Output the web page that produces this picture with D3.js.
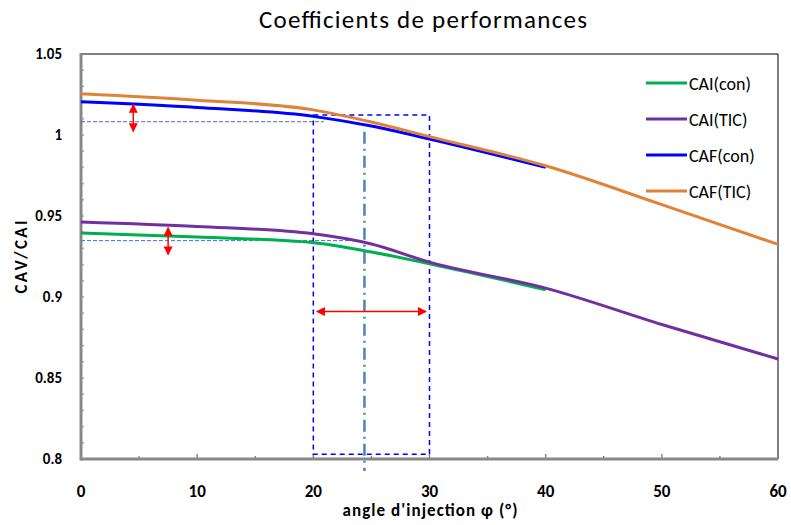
<!DOCTYPE html>
<html>
<head>
<meta charset="utf-8">
<script src="https://cdn.jsdelivr.net/npm/d3@7"></script>
<style>
  body { margin: 0; background: #fff; }
  svg { font-family: Carlito, Lato, "Open Sans", sans-serif; }
</style>
</head>
<body>
<div id="chart"></div>
<script>
// data
var angles = [0, 10, 20, 25, 30, 40, 50, 60];
var cafTic = [1.0255, 1.0215, 1.0155, 1.008, 0.999, 0.981, 0.957, 0.9325];
var cafCon = [1.0205, 1.017, 1.0115, 1.0055, 0.9975, 0.980];
var caiTic = [0.9463, 0.9435, 0.939, 0.9327, 0.9215, 0.9055, 0.883, 0.8617];
var caiCon = [0.9395, 0.937, 0.9335, 0.9278, 0.9205, 0.9045];

var seriesNames = ["CAI(con)", "CAI(TIC)", "CAF(con)", "CAF(TIC)"];
var seriesColors = ["#00b050", "#7030a0", "#0000ff", "#e0833a"];
var seriesValues = [caiCon, caiTic, cafCon, cafTic];

var xTicks = [0, 10, 20, 30, 40, 50, 60];
var yTicks = [0.8, 0.85, 0.9, 0.95, 1, 1.05];
var yTickLabels = ["0.8", "0.85", "0.9", "0.95", "1", "1.05"];

// annotation values
var zoneX = [20, 30], zoneY = [0.803, 1.0123];
var optAngle = 24.4;
var refCaf = 1.0082, refCai = 0.9348;

var width = 791, height = 525;
var margin = { top: 54, right: 13, bottom: 66, left: 81 };

var svg = d3.select("#chart").append("svg")
	.attr("width", width)
	.attr("height", height);

var x = d3.scaleLinear().domain([0, 60]).range([margin.left, width - margin.right]);
var y = d3.scaleLinear().domain([0.8, 1.05]).range([height - margin.bottom, margin.top]);

// title
svg.append("text")
	.attr("x", 423).attr("y", 28)
	.attr("text-anchor", "middle")
	.attr("font-size", "25px")
	.attr("textLength", 328)
	.attr("fill", "#000")
	.text("Coefficients de performances");

// frame top / right
svg.append("line")
	.attr("x1", x(0)).attr("x2", x(60)).attr("y1", y(1.05)).attr("y2", y(1.05))
	.attr("stroke", "#000").attr("stroke-width", 1);
svg.append("line")
	.attr("x1", x(60)).attr("x2", x(60)).attr("y1", y(1.05)).attr("y2", y(0.8))
	.attr("stroke", "#000").attr("stroke-width", 1);

// minor ticks
var g = svg.append("g");
g.selectAll("line.xm").data(d3.range(5, 60, 5))
	.enter().append("line")
	.attr("x1", function(d){ return x(d); }).attr("x2", function(d){ return x(d); })
	.attr("y1", y(0.8)).attr("y2", function(d){ return y(0.8) - (d % 10 == 0 ? 5 : 3); })
	.attr("stroke", "#888").attr("stroke-width", 1.5);
g.selectAll("line.ym").data(d3.range(1, 25))
	.enter().append("line")
	.attr("x1", x(0)).attr("x2", x(0) + 3)
	.attr("y1", function(d){ return y(0.8 + d * 0.01); })
	.attr("y2", function(d){ return y(0.8 + d * 0.01); })
	.attr("stroke", "#aaa").attr("stroke-width", 1.5);

// axes
svg.append("line")
	.attr("x1", x(0)).attr("x2", x(0)).attr("y1", y(1.05) - 1).attr("y2", y(0.8) + 1.5)
	.attr("stroke", "#888").attr("stroke-width", 3);
svg.append("line")
	.attr("x1", x(0)).attr("x2", x(60)).attr("y1", y(0.8)).attr("y2", y(0.8))
	.attr("stroke", "#888").attr("stroke-width", 3);

svg.selectAll("text.xt").data(xTicks)
	.enter().append("text")
	.attr("x", function(d){ return x(d); })
	.attr("y", y(0.8) + 38)
	.attr("text-anchor", "middle")
	.attr("font-size", "17px").attr("font-weight", "bold")
	.text(function(d){ return d; });

svg.selectAll("text.yt").data(yTicks)
	.enter().append("text")
	.attr("x", 62)
	.attr("y", function(d){ return y(d) + 5; })
	.attr("text-anchor", "end")
	.attr("font-size", "15px").attr("font-weight", "bold")
	.text(function(d, i){ return yTickLabels[i]; });

svg.append("text")
	.attr("x", 430).attr("y", 516)
	.attr("text-anchor", "middle")
	.attr("font-size", "17px").attr("font-weight", "bold")
	.attr("textLength", 175)
	.text("angle d'injection φ (°)");

svg.append("text")
	.attr("transform", "translate(27," + 257 + ") rotate(-90)")
	.attr("text-anchor", "middle")
	.attr("font-size", "17px").attr("font-weight", "bold")
	.attr("textLength", 73)
	.text("CAV/CAI");

// reference dashed lines
svg.append("line")
	.attr("x1", x(0)).attr("x2", x(20.9)).attr("y1", y(refCaf)).attr("y2", y(refCaf))
	.attr("stroke", "#4472c4").attr("stroke-width", 1).attr("stroke-dasharray", "4,2");
svg.append("line")
	.attr("x1", x(0)).attr("x2", x(23.2)).attr("y1", y(refCai)).attr("y2", y(refCai))
	.attr("stroke", "#4472c4").attr("stroke-width", 1).attr("stroke-dasharray", "4,2");

// zone rectangle
svg.append("rect")
	.attr("x", x(zoneX[0])).attr("y", y(zoneY[1]))
	.attr("width", x(zoneX[1]) - x(zoneX[0]))
	.attr("height", y(zoneY[0]) - y(zoneY[1]))
	.attr("fill", "none").attr("stroke", "#0000ff")
	.attr("stroke-width", 1.5).attr("stroke-dasharray", "5,4");

// series lines
var line = d3.line()
	.x(function(d){ return x(d[0]); })
	.y(function(d){ return y(d[1]); })
	.curve(d3.curveMonotoneX);

seriesValues.forEach(function(vals, i){
	var pts = vals.map(function(v, j){ return [angles[j], v]; });
	svg.append("path")
		.attr("d", line(pts))
		.attr("fill", "none")
		.attr("stroke", seriesColors[i])
		.attr("stroke-width", 3);
});

// optimum dash-dot line
svg.append("line")
	.attr("x1", x(optAngle)).attr("x2", x(optAngle))
	.attr("y1", y(1.002)).attr("y2", y(0.8) + 12)
	.attr("stroke", "#4f81bd").attr("stroke-width", 2.5)
	.attr("stroke-dasharray", "12,5,2,5");

// red double arrows
var defs = svg.append("defs");
defs.append("marker")
	.attr("id", "ah").attr("viewBox", "0 0 10 10")
	.attr("refX", 9).attr("refY", 5)
	.attr("markerWidth", 6).attr("markerHeight", 6)
	.attr("orient", "auto-start-reverse")
	.append("path").attr("d", "M0,0 L10,5 L0,10 z").attr("fill", "#ff0000");

var arrows = [
	{ x1: 4.5, y1: 1.0188, x2: 4.5, y2: 1.0022 },
	{ x1: 7.5, y1: 0.9428, x2: 7.5, y2: 0.9262 },
	{ x1: 20.3, y1: 0.891, x2: 29.7, y2: 0.891 }
];
svg.selectAll("line.arr").data(arrows)
	.enter().append("line")
	.attr("x1", function(d){ return x(d.x1); })
	.attr("x2", function(d){ return x(d.x2); })
	.attr("y1", function(d){ return y(d.y1); })
	.attr("y2", function(d){ return y(d.y2); })
	.attr("stroke", "#ff0000").attr("stroke-width", 1.5)
	.attr("marker-start", "url(#ah)").attr("marker-end", "url(#ah)");

// legend
var legend = svg.append("g").attr("transform", "translate(646,83)");
seriesNames.forEach(function(name, i){
	var row = legend.append("g").attr("transform", "translate(0," + (i * 36) + ")");
	row.append("line").attr("x1", 0).attr("x2", 41).attr("y1", 0).attr("y2", 0)
		.attr("stroke", seriesColors[i]).attr("stroke-width", 3);
	row.append("text").attr("x", 43).attr("y", 7)
		.attr("font-size", "18px").attr("fill", "#000")
		.text(name);
});
</script>
</body>
</html>
